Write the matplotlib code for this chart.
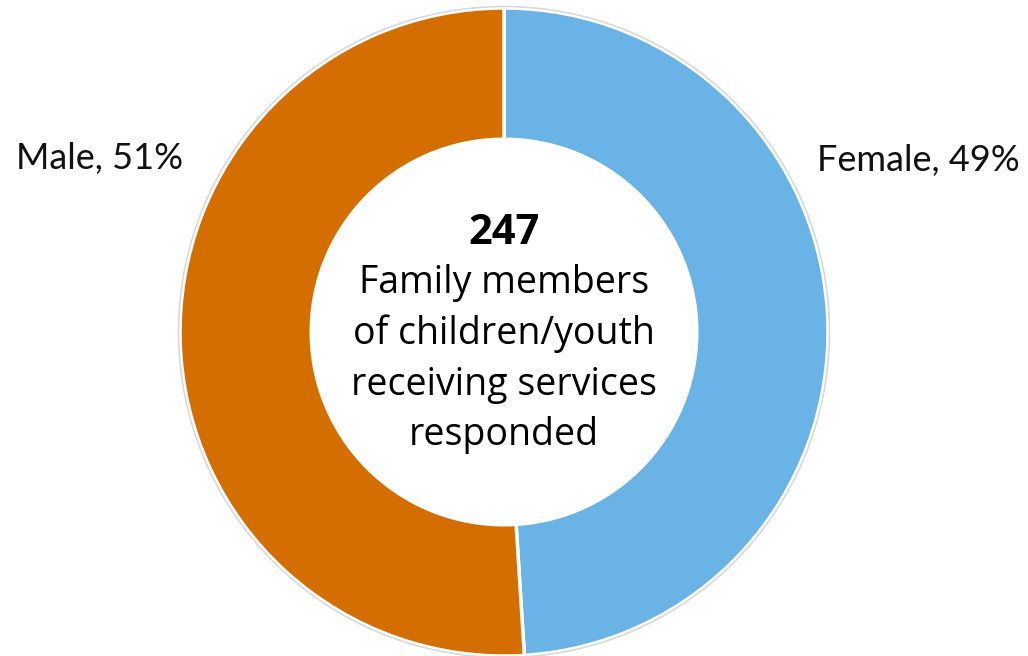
import matplotlib
matplotlib.use("Agg")
import matplotlib.pyplot as plt

# Respondent gender split
categories = ["Female", "Male"]
shares = [49, 51]
colors = ["#69B3E7", "#D46E00"]
total_respondents = 247
center_caption = "Family members\nof children/youth\nreceiving services\nresponded"

W, H = 1028, 656
fig = plt.figure(figsize=(W / 100, H / 100), dpi=100)
ax = fig.add_axes([0, 0, 1, 1])

cx, cy, r = 504, 324, 324
ax.pie(
    shares,
    colors=colors,
    startangle=90,
    counterclock=False,
    radius=r,
    center=(cx, cy),
    wedgeprops=dict(width=r * 0.405, edgecolor="white", linewidth=2.5),
    frame=True,
)
ax.set_xlim(0, W)
ax.set_ylim(0, H)
ax.set_aspect("equal")
ax.axis("off")

# thin grey outline around the ring
ax.add_patch(plt.Circle((cx, cy), r + 1.5, fill=False, edgecolor="#D9D9D9", linewidth=1.2))

label_font = "Lato"
ax.text(100, H - 158, f"{categories[1]}, {shares[1]}%", ha="center", va="center",
        fontsize=26, family=label_font, color="#111111")
ax.text(918, H - 160, f"{categories[0]}, {shares[0]}%", ha="center", va="center",
        fontsize=26, family=label_font, color="#111111")

ax.text(cx, H - 233, str(total_respondents), ha="center", va="center",
        fontsize=30, fontweight="bold", family="Open Sans", color="black")
ax.text(cx, H - 359, center_caption, ha="center", va="center",
        fontsize=27, family="Open Sans", color="black", linespacing=1.42)

fig.savefig("out.png", dpi=100)
